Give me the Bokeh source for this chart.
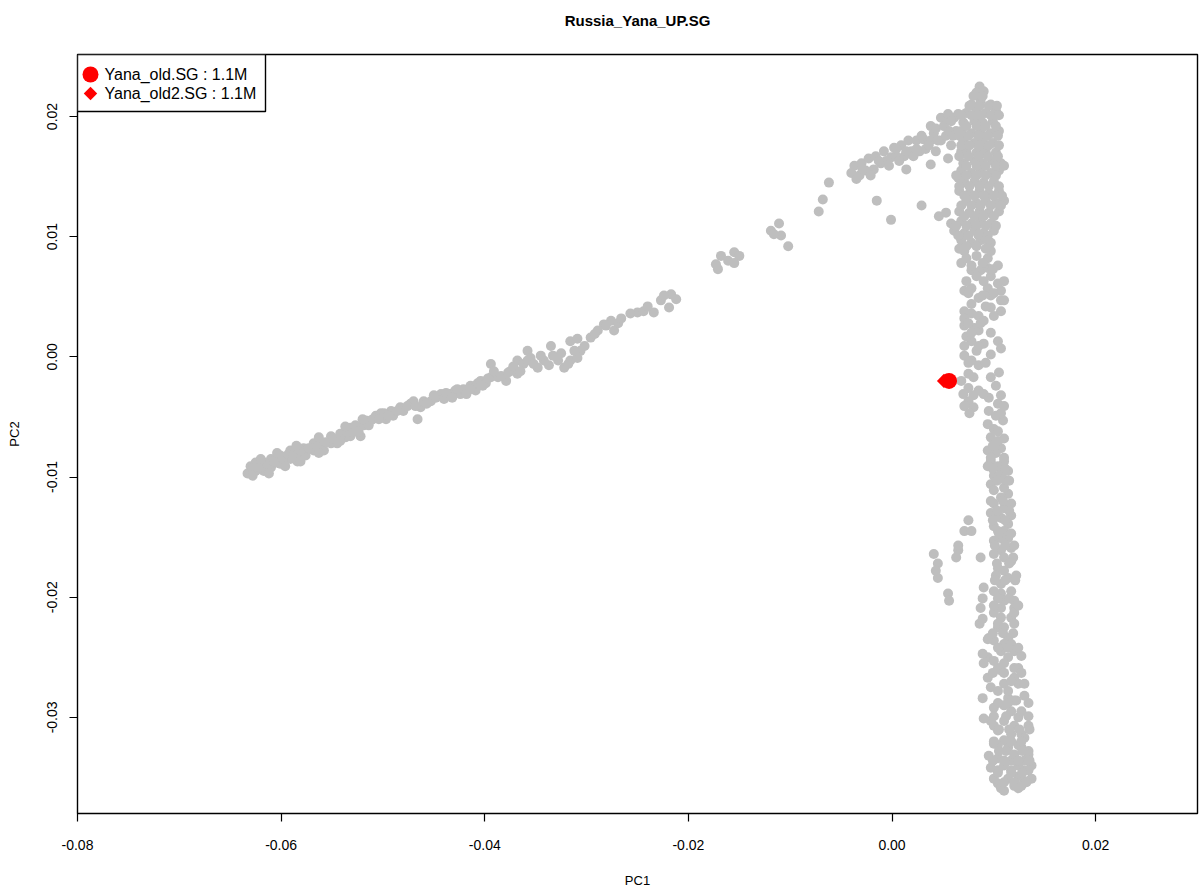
import numpy as np
from bokeh.plotting import figure
from bokeh.models import Range1d, FixedTicker, PrintfTickFormatter, BoxAnnotation, Label, Title
from bokeh.embed import file_html
from bokeh.resources import INLINE

# ---------------- data (PC values in units of 1e-4) ----------------
arm_pc1 = [-633, -630, -625, -625, -617, -617, -610, -610, -605, -601, -601, -596, -591, -591, -584, -584,
           -578, -576, -568, -568, -561, -558, -551, -551, -545, -542, -537, -532, -532, -527,
           -522, -519, -517, -512, -507, -502, -497, -492, -490, -483, -480, -473, -470, -466, -463, -460,
           -453, -448, -443, -440, -434, -429, -424, -421, -414, -409, -407, -404,
           -399, -394, -394, -387, -379, -375, -368, -368, -362, -358, -355, -348, -342, -335, -328, -322,
           -316, -309, -306, -316, -309, -296, -289, -283, -276, -273, -269,
           -250, -244, -234, -227, -217, -212, -219, -171, -168, -161, -155, -150, -155, -173,
           -119, -111, -109, -102, -116, -72, -68, -62,
           -628, -621, -614, -607, -598, -593, -588, -581, -573, -565, -556, -549, -542, -535, -527, -524,
           -514, -510, -504, -499, -495, -486, -476, -468, -457, -450, -438, -432, -427, -418, -414, -402,
           -397, -391, -384, -377, -372, -365, -358, -352, -345, -337, -333, -325, -318, -312, -302, -292,
           -281, -266, -257, -240, -224,
           -628, -612, -596, -581, -563, -620, -604, -585, -563, -537, -520]
arm_pc2 = [-97, -91, -95, -88, -88, -95, -85, -92, -88, -82, -89, -85, -78, -85, -81, -87,
           -76, -82, -72, -78, -74, -78, -66, -72, -72, -64, -67, -59, -66, -62,
           -66, -57, -53, -53, -49, -47, -52, -45, -49, -42, -45, -39, -37, -52, -42, -37,
           -37, -34, -31, -35, -31, -28, -31, -27, -24, -28, -22, -20,
           -22, -6, -17, -17, -20, -12, -3, -14, -6, 5, -1, -9, -3, 9, -3, -9,
           -3, -1, 5, 13, 15, 16, 22, 27, 30, 22, 28,
           37, 38, 37, 47, 52, 48, 41, 73, 84, 80, 87, 84, 78, 77,
           105, 111, 101, 92, 102, 121, 131, 145,
           -93, -92, -89, -87, -85, -81, -83, -78, -76, -75, -71, -68, -70, -63, -57, -62,
           -57, -52, -52, -47, -49, -45, -41, -41, -39, -32, -30, -34, -27, -31, -27, -24,
           -18, -12, -16, -13, -8, -12, -3, -6, 1, -7, 1, 3, -6, 5, 9, 19,
           26, 32, 36, 42, 51,
           -99, -97, -91, -87, -80, -85, -80, -74, -67, -58, -52]

upper_pc1 = [-40, -37, -32, -30, -26, -23, -18, -16, -11, -8, -6, -1, 2, 4, 9, 12, 16, 19, 24, 27,
             31, 33, 38, 38, 41, 43, 48, 48, 53, 55, 53, 58, 61, 65, 63,
             14, 38, -15, -1, 29, 55, 46, 68,
             -35, -29, -21, -13, -3, 4, 7, 14, 21, 24, 29, 36, 43, 45, 51, 58, 56, 60]
upper_pc2 = [153, 159, 151, 161, 155, 165, 156, 167, 161, 171, 163, 166, 174, 167, 176, 167, 180, 171, 180, 171,
             181, 173, 192, 180, 186, 171, 199, 180, 196, 202, 184, 176, 199, 202, 188,
             156, 160, 130, 114, 126, 165, 117, 171,
             148, 156, 151, 163, 159, 173, 163, 171, 167, 173, 184, 176, 190, 180, 192, 196, 188, 184]

top_pc1 = [86, 83, 90, 78, 87, 97, 73, 83, 92, 102, 70, 81, 89, 99, 68, 78, 87, 97, 105,
           70, 81, 89, 99, 73, 83, 92, 102, 70, 81, 89, 99, 107, 68, 78, 87, 97, 105,
           71, 81, 90, 100, 66, 76, 86, 95, 105, 73, 83, 92, 102, 110, 66, 76, 86, 95, 105,
           68, 78, 87, 97, 61, 71, 81, 90, 100, 68, 78, 87, 97, 65, 58, 65, 53,
           80, 89, 76, 86, 95, 103, 68, 78, 87, 97, 105, 73, 83, 92, 102, 66, 75, 85, 94, 104,
           68, 76, 86, 95, 105, 66, 75, 85, 94, 104, 73, 83, 92, 102, 110, 63, 73, 83, 92, 102,
           66, 76, 86, 95, 105, 71, 81, 90, 100, 108, 68, 78, 87, 97, 107, 71, 81, 90, 100,
           63, 73, 83, 92, 102, 75, 85, 94]
top_pc2 = [225, 220, 221, 210, 213, 210, 203, 205, 203, 205, 195, 196, 195, 196, 188, 186, 188, 186, 188,
           180, 178, 180, 178, 171, 170, 171, 170, 161, 163, 161, 163, 161, 155, 153, 155, 153, 155,
           145, 146, 145, 146, 138, 136, 138, 136, 138, 130, 128, 130, 128, 130, 121, 120, 121, 120, 121,
           113, 111, 113, 111, 105, 103, 105, 103, 105, 97, 95, 97, 95, 149, 111, 101, 120,
           217, 217, 209, 209, 209, 209, 201, 201, 201, 201, 201, 192, 192, 192, 192, 184, 184, 184, 184, 184,
           176, 176, 176, 176, 176, 167, 167, 167, 167, 167, 159, 159, 159, 159, 159, 151, 151, 151, 151, 151,
           142, 142, 142, 142, 142, 134, 134, 134, 134, 134, 126, 126, 126, 126, 126, 117, 117, 117, 117,
           109, 109, 109, 109, 109, 101, 101, 101]

mid_pc1 = [71, 85, 94, 94, 78, 87, 94, 78, 85, 94, 104, 107, 97, 107, 78, 90, 81, 71, 78, 90, 104, 107,
           97, 78, 75, 105, 75, 85, 75, 80, 95, 104, 110, 95, 109, 94, 97, 110, 94, 107, 97, 110,
           68, 83, 73, 85, 71, 97, 107,
           73, 83, 97, 73, 89, 83, 99, 71, 89, 78, 97, 110, 71, 85, 100, 73, 83, 71, 85, 68, 80, 71,
           102, 107, 102, 100, 104, 102,
           66, 92, 78, 104, 90, 110, 75, 100, 92, 75, 87, 78, 97, 71, 85, 75, 92, 80, 97, 70, 90,
           76, 107, 104, 99]
mid_pc2 = [88, 102, 97, 82, 72, 72, 74, 57, 49, 57, 61, 47, 41, 38, 36, 30, 24, 38, 13, 11, 13, 7,
           2, -3, -14, -13, -26, -28, -37, -42, -34, -39, -41, -45, -53, -56, -67, -68, -78, -76, -87, -87,
           78, 84, 63, 34, 26, 67, 55,
           92, 92, 88, 82, 78, 67, 73, 55, 51, 44, 51, 47, 32, 22, 34, 17, 5, 1, -7, -20, -32, -41,
           -24, -32, -49, -60, -70, -80,
           90, 90, 76, 76, 63, 63, 53, 53, 42, 28, 28, 20, 20, 9, 9, -5, -5, -17, -17, -31, -31,
           -47, -47, -62, -74]

low_pc1 = [97, 110, 97, 107, 114, 100, 107, 104, 114, 107, 117, 104, 117, 107, 117, 120, 107, 107, 117, 104,
           114, 117, 107, 94, 114, 120, 107, 94, 110, 124, 130, 114, 100, 117, 124, 104, 117, 127, 100, 114,
           127, 104, 117, 130, 104, 117, 130, 104, 130, 107,
           97, 110, 134, 95, 134, 137, 124, 137, 97, 120, 110, 122,
           107, 120, 104, 120, 95, 120, 104, 124, 97, 120,
           94, 110, 110, 104, 114, 107, 100, 119, 110, 114,
           104, 114, 100, 110, 100, 107, 117, 97, 117, 100, 110, 100, 120, 110, 102, 122, 100, 110, 100, 120,
           110, 100, 110, 127, 100, 110, 120, 104, 114, 130, 110, 127, 100, 120, 130, 104, 120, 134, 110, 124,
           100, 114, 110, 127, 134, 124,
           99, 111, 103, 115, 97, 109, 103, 115, 99, 111, 105, 117, 101, 111, 103, 115, 101, 111, 121,
           104, 115, 100, 124, 99, 109, 119, 104, 114, 124, 99, 110, 127, 117, 104, 114, 134, 100, 112, 134,
           105, 115, 125, 135, 100, 117, 127, 105, 112, 128, 99, 110, 124, 135, 104, 117, 128, 110, 120, 132, 124]
low_pc2 = [-84, -84, -106, -97, -114, -122, -134, -145, -151, -161, -159, -176, -170, -189, -195, -203, -209, -217, -217, -225,
           -234, -239, -245, -250, -250, -259, -261, -267, -272, -272, -272, -284, -292, -295, -300, -311, -314, -314, -322, -325,
           -325, -334, -336, -336, -344, -344, -344, -355, -353, -359,
           -303, -303, -307, -332, -328, -340, -349, -351, -342, -357, -319, -286,
           -197, -209, -222, -222, -234, -245, -259, -259, -275, -286,
           -91, -109, -126, -131, -139, -151, -164, -167, -178, -184,
           -91, -95, -99, -102, -111, -117, -122, -130, -132, -141, -145, -153, -157, -167, -182, -182, -195, -203, -213, -213,
           -225, -236, -239, -249, -253, -255, -267, -278, -278, -282, -290, -295, -307, -307, -317, -323, -331, -331, -340, -340,
           -351, -351, -361, -357, -344, -323,
           -93, -93, -103, -103, -120, -120, -128, -128, -136, -136, -147, -147, -157, -157, -172, -172, -186, -186, -186,
           -201, -201, -207, -207, -230, -230, -230, -242, -242, -242, -263, -263, -263, -270, -288, -288, -288, -299, -299, -299,
           -310, -310, -310, -310, -320, -320, -320, -328, -328, -328, -336, -336, -336, -336, -346, -346, -346, -354, -354, -354, -359]

side_pc1 = [75, 71, 78, 41, 45, 45, 43, 65, 63, 65, 55, 56, 87, 90, 89, 87, 86, 89, 94, 89, 90, 89, 90]
side_pc2 = [-136, -145, -145, -164, -172, -184, -178, -161, -167, -157, -197, -203, -167, -192, -201, -209,
            -222, -218, -235, -247, -255, -284, -301]

yana_old_pc1 = [56]
yana_old_pc2 = [-20]
yana_old2_pc1 = [51]
yana_old2_pc2 = [-20]

title_text = "Russia_Yana_UP.SG"
legend_labels = ["Yana_old.SG : 1.1M", "Yana_old2.SG : 1.1M"]
x_ticks = [-0.08, -0.06, -0.04, -0.02, 0.0, 0.02]
y_ticks = [-0.03, -0.02, -0.01, 0.0, 0.01, 0.02]

UNIT = 1e-4
bg_x = np.array(arm_pc1 + upper_pc1 + top_pc1 + mid_pc1 + low_pc1 + side_pc1) * UNIT
bg_y = np.array(arm_pc2 + upper_pc2 + top_pc2 + mid_pc2 + low_pc2 + side_pc2) * UNIT

# ---------------- figure ----------------
FONT = "Liberation Sans"
X0, X1 = -0.08, 0.0300
Y0, Y1 = -0.0380, 0.02516
W, H = 1200, 893
BL, BR, BT, BB = 77, 3, 54, 80
FW, FH = W - BL - BR, H - BT - BB

p = figure(width=W, height=H, output_backend="svg", toolbar_location=None, title=None,
           x_range=Range1d(X0, X1), y_range=Range1d(Y0, Y1),
           min_border_left=BL, min_border_right=BR, min_border_top=BT, min_border_bottom=BB)

# spacer panel next to the frame, then the real title above it
p.add_layout(Title(text=" ", text_font=FONT, text_font_size="15px", standoff=7), "above")
p.add_layout(Title(text=title_text, align="center", text_font=FONT, text_font_size="15px",
                   text_font_style="bold", text_color="black", standoff=0), "above")

p.grid.visible = False
p.outline_line_color = "black"
p.outline_line_width = 1.4
p.background_fill_color = "white"
p.border_fill_color = "white"

for ax, ticks in ((p.xaxis[0], x_ticks), (p.yaxis[0], y_ticks)):
    ax.ticker = FixedTicker(ticks=ticks)
    ax.formatter = PrintfTickFormatter(format="%.2f")
    ax.axis_line_color = None
    ax.major_tick_out = 8
    ax.major_tick_in = 0
    ax.minor_tick_line_color = None
    ax.major_tick_line_color = "black"
    ax.major_tick_line_width = 1.2
    ax.major_label_text_font = FONT
    ax.major_label_text_font_size = "14px"
    ax.major_label_text_color = "black"
    ax.axis_label_text_font = FONT
    ax.axis_label_text_font_size = "13px"
    ax.axis_label_text_font_style = "normal"
    ax.axis_label_text_color = "black"

p.xaxis.axis_label = "PC1"
p.yaxis.axis_label = "PC2"
p.yaxis.major_label_orientation = "vertical"
p.xaxis.major_label_standoff = 18
p.xaxis.axis_label_standoff = 20
p.yaxis.major_label_standoff = 12
p.yaxis.axis_label_standoff = 23

p.scatter(bg_x, bg_y, size=10, color="#BEBEBE", line_color=None)
p.scatter(np.array(yana_old2_pc1) * UNIT, np.array(yana_old2_pc2) * UNIT, marker="square", angle=np.pi / 4,
          size=10, color="#FF0000", line_color=None)
p.scatter(np.array(yana_old_pc1) * UNIT, np.array(yana_old_pc2) * UNIT, marker="circle",
          size=16, color="#FF0000", line_color=None)

# ---------------- legend, placed by pixel offsets from the frame corner ----------------
dx = (X1 - X0) / FW
dy = (Y1 - Y0) / FH
def lx(px):
    return X0 + px * dx
def ly(py):
    return Y1 - py * dy

box = BoxAnnotation(left=lx(0), right=lx(188), top=ly(0), bottom=ly(57),
                    fill_color="white", fill_alpha=1.0, line_color="black", line_alpha=1.0,
                    line_width=1.4, level="underlay")
p.add_layout(box)
p.scatter([lx(13)], [ly(20)], marker="circle", size=16, color="#FF0000", line_color=None)
p.scatter([lx(13)], [ly(39)], marker="square", angle=np.pi / 4, size=9.5, color="#FF0000", line_color=None)
for i, lab in enumerate(legend_labels):
    p.add_layout(Label(x=lx(27), y=ly(20 + 19 * i), text=lab, text_font=FONT, text_font_size="16px",
                       text_baseline="middle", text_align="left", text_color="black"))

open("out.html", "w").write(file_html(p, INLINE))
